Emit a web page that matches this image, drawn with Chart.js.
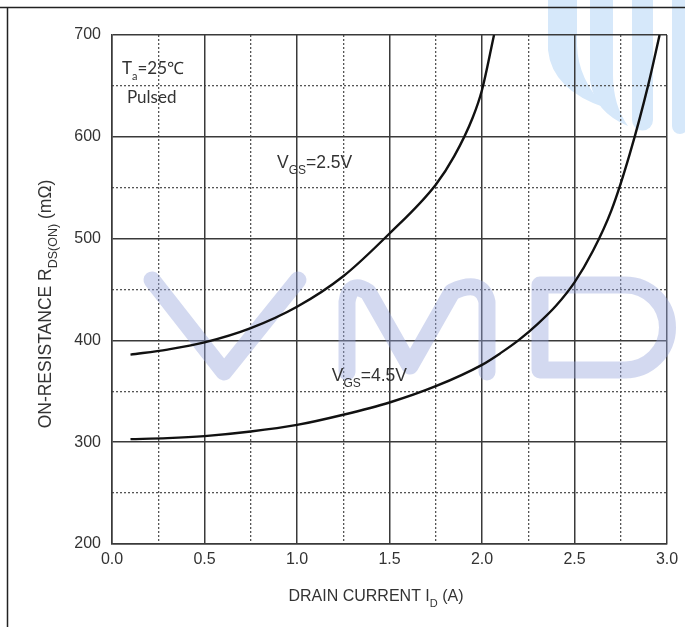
<!DOCTYPE html>
<html>
<head>
<meta charset="utf-8">
<script src="https://cdn.jsdelivr.net/npm/chart.js@4.4.0/dist/chart.umd.min.js"></script>
<style>
  html, body { margin: 0; padding: 0; background: #fff; }
  #wrap { width: 685px; height: 627px; position: relative; }
</style>
</head>
<body>
<div id="wrap"><canvas id="myChart" width="685" height="627"></canvas></div>
<script>
// drain current (A) / on-resistance (mOhm)
const currentVgs25 = [0.1, 0.3, 0.5, 0.75, 1.0, 1.25, 1.5, 1.75, 1.85, 1.95, 2.0, 2.065];
const resistVgs25  = [386, 391, 398, 412, 433, 463, 505, 553, 581, 619, 646, 700];
const currentVgs45 = [0.1, 0.3, 0.5, 0.75, 1.0, 1.25, 1.5, 1.75, 2.0, 2.1, 2.2, 2.3, 2.4, 2.5, 2.6, 2.7, 2.8, 2.9, 2.96];
const resistVgs45  = [303, 304, 306, 310.5, 317, 327, 339, 355, 376, 387.5, 400.5, 416, 434, 457, 488, 528, 584, 652, 700];

const xRange = [0, 3];
const yRange = [200, 700];
const xStep = 0.5, xMinorStep = 0.25;
const yStep = 100, yMinorStep = 50;

const toPoints = (xs, ys) => xs.map((x, i) => ({ x: x, y: ys[i] }));

const AXIS_FONT = '"Liberation Sans", Arial, sans-serif';
const NOTE_FONT = 'Lato, "Open Sans", sans-serif';
const TEXT = '#333';

// text with subscripts
function drawRich(ctx, parts, x, y, size, subSize, align, family) {
  family = family || AXIS_FONT;
  let total = 0;
  parts.forEach(p => {
    ctx.font = (p.sub ? subSize : size) + 'px ' + family;
    p.w = ctx.measureText(p.t).width;
    total += p.w;
  });
  let cx = align === 'center' ? x - total / 2 : x;
  ctx.textAlign = 'left';
  ctx.textBaseline = 'middle';
  parts.forEach(p => {
    ctx.font = (p.sub ? subSize : size) + 'px ' + family;
    ctx.fillText(p.t, cx, p.sub ? y + size * 0.45 : y);
    cx += p.w;
  });
}

const decor = {
  id: 'decor',
  beforeDraw(chart) {
    const ctx = chart.ctx;
    ctx.save();
    // logo bands at top right
    ctx.fillStyle = '#d6e8fa';
    ctx.beginPath();
    ctx.moveTo(548, 0); ctx.lineTo(548, 50);
    ctx.quadraticCurveTo(552, 90, 606, 108);
    ctx.quadraticCurveTo(578, 80, 577, 45);
    ctx.lineTo(577, 0); ctx.closePath(); ctx.fill();
    ctx.beginPath();
    ctx.moveTo(590, 0); ctx.lineTo(590, 80);
    ctx.quadraticCurveTo(594, 112, 628, 126);
    ctx.quadraticCurveTo(613, 105, 613, 75);
    ctx.lineTo(613, 0); ctx.closePath(); ctx.fill();
    ctx.beginPath();
    ctx.moveTo(632, 0); ctx.lineTo(632, 120);
    ctx.arc(642.5, 120, 10.5, Math.PI, 0, true);
    ctx.lineTo(653, 0); ctx.closePath(); ctx.fill();
    ctx.beginPath();
    ctx.moveTo(672, 0); ctx.lineTo(672, 126);
    ctx.arc(680, 126, 8, Math.PI, 0, true);
    ctx.lineTo(688, 0); ctx.closePath(); ctx.fill();
    ctx.restore();
  },
  beforeDatasetsDraw(chart) {
    const ctx = chart.ctx;
    ctx.save();
    // watermark "VMD"
    ctx.strokeStyle = 'rgba(150,165,220,0.42)';
    ctx.lineWidth = 17;
    ctx.lineCap = 'round';
    ctx.lineJoin = 'round';
    ctx.beginPath();
    ctx.moveTo(152, 280); ctx.lineTo(224, 372); ctx.lineTo(298, 280);
    ctx.stroke();
    ctx.beginPath();
    ctx.moveTo(347, 372); ctx.lineTo(347, 302);
    ctx.quadraticCurveTo(350, 280, 368, 292);
    ctx.lineTo(410, 366); ctx.lineTo(452, 292);
    ctx.quadraticCurveTo(482, 278, 487, 302);
    ctx.lineTo(487, 372);
    ctx.stroke();
    ctx.beginPath();
    ctx.moveTo(625, 285); ctx.lineTo(540, 285); ctx.lineTo(540, 370); ctx.lineTo(625, 370);
    ctx.arc(625, 327.5, 42.5, Math.PI / 2, -Math.PI / 2, true);
    ctx.closePath();
    ctx.stroke();
    ctx.restore();
  },
  afterDraw(chart) {
    const ctx = chart.ctx;
    const x = chart.scales.x, y = chart.scales.y;
    ctx.save();
    // page frame
    ctx.strokeStyle = '#222';
    ctx.lineWidth = 1.5;
    ctx.beginPath();
    ctx.moveTo(0, 7.5); ctx.lineTo(685, 7.5);
    ctx.moveTo(7.5, 7.5); ctx.lineTo(7.5, 627);
    ctx.stroke();

    ctx.fillStyle = TEXT;
    // axis titles
    drawRich(ctx, [{ t: 'DRAIN CURRENT I' }, { t: 'D', sub: true }, { t: ' (A)' }],
      376, 597, 16, 11, 'center');
    ctx.save();
    ctx.translate(46, 304);
    ctx.rotate(-Math.PI / 2);
    drawRich(ctx, [{ t: 'ON-RESISTANCE R' }, { t: 'DS(ON)', sub: true }, { t: ' (m\u03A9)' }],
      0, 0, 17.5, 12.5, 'center');
    ctx.restore();

    // annotations
    drawRich(ctx, [{ t: 'T' }, { t: 'a', sub: true }, { t: '=25\u2103' }],
      x.getPixelForValue(0.054), y.getPixelForValue(667), 17, 11, 'left', NOTE_FONT);
    ctx.font = '17px ' + NOTE_FONT;
    ctx.textAlign = 'left';
    ctx.textBaseline = 'middle';
    ctx.fillText('Pulsed', x.getPixelForValue(0.081), y.getPixelForValue(639));
    drawRich(ctx, [{ t: 'V' }, { t: 'GS', sub: true }, { t: '=2.5V' }],
      x.getPixelForValue(0.892), y.getPixelForValue(574), 17.5, 12, 'left');
    drawRich(ctx, [{ t: 'V' }, { t: 'GS', sub: true }, { t: '=4.5V' }],
      x.getPixelForValue(1.188), y.getPixelForValue(365), 17.5, 12, 'left');
    ctx.restore();
  }
};

const minorColor = step => c => {
  const k = Math.round(c.tick.value / step);
  return k % 2 === 0 ? 'rgba(0,0,0,0)' : '#555';
};

const ctx = document.getElementById('myChart').getContext('2d');
const chart = new Chart(ctx, {
  type: 'line',
  data: {
    datasets: [
      {
        label: 'VGS=2.5V',
        data: toPoints(currentVgs25, resistVgs25),
        borderColor: '#111',
        borderWidth: 2.4,
        pointRadius: 0,
        cubicInterpolationMode: 'monotone',
        fill: false
      },
      {
        label: 'VGS=4.5V',
        data: toPoints(currentVgs45, resistVgs45),
        borderColor: '#111',
        borderWidth: 2.4,
        pointRadius: 0,
        cubicInterpolationMode: 'monotone',
        fill: false
      }
    ]
  },
  options: {
    responsive: false,
    animation: false,
    devicePixelRatio: 1,
    layout: { padding: { top: 35, right: 18, left: 0, bottom: 0 } },
    plugins: { legend: { display: false }, tooltip: { enabled: false } },
    scales: {
      xMinor: {
        type: 'linear', position: 'bottom', min: xRange[0], max: xRange[1],
        ticks: { display: false, stepSize: xMinorStep },
        grid: { color: minorColor(xMinorStep), lineWidth: 1.3, drawTicks: false },
        border: { display: false, dash: [2, 2] },
        afterFit: s => { s.height = 0; }
      },
      yMinor: {
        type: 'linear', position: 'left', min: yRange[0], max: yRange[1],
        ticks: { display: false, stepSize: yMinorStep },
        grid: { color: minorColor(yMinorStep), lineWidth: 1.3, drawTicks: false },
        border: { display: false, dash: [2, 2] },
        afterFit: s => { s.width = 0; }
      },
      x: {
        type: 'linear', position: 'bottom', min: xRange[0], max: xRange[1],
        ticks: {
          stepSize: xStep, padding: 6, color: TEXT,
          font: { family: AXIS_FONT, size: 16 },
          callback: v => v.toFixed(1)
        },
        grid: { color: '#3a3a3a', lineWidth: 1.5, drawTicks: false },
        border: { color: '#3a3a3a', width: 1.5 },
        afterFit: s => { s.height = 83; }
      },
      y: {
        type: 'linear', position: 'left', min: yRange[0], max: yRange[1],
        ticks: {
          stepSize: yStep, padding: 11, color: TEXT,
          font: { family: AXIS_FONT, size: 16 }
        },
        grid: { color: '#3a3a3a', lineWidth: 1.5, drawTicks: false },
        border: { color: '#3a3a3a', width: 1.5 },
        afterFit: s => { s.width = 112; }
      }
    }
  },
  plugins: [decor]
});
</script>
</body>
</html>
